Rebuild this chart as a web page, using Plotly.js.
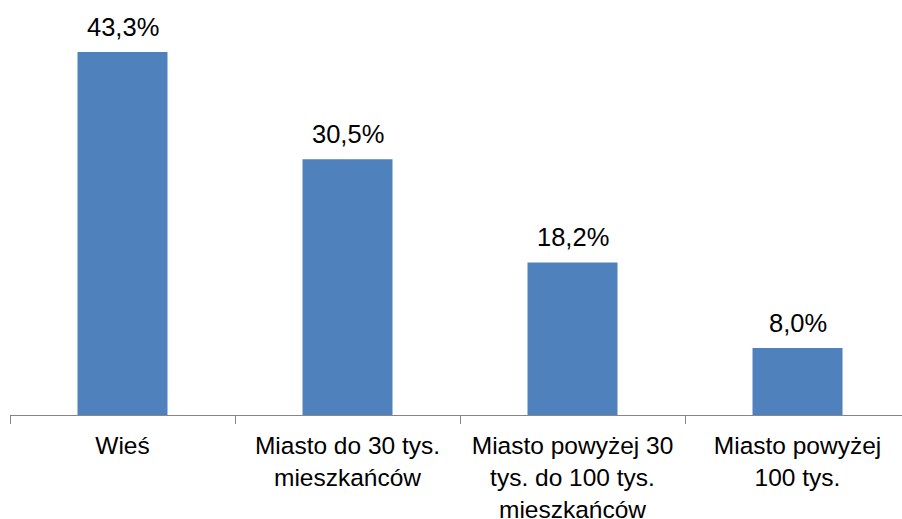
<!DOCTYPE html>
<html>
<head>
<meta charset="utf-8">
<script src="https://cdn.plot.ly/plotly-3.0.1.min.js"></script>
<style>html,body{margin:0;padding:0;background:#fff;}#chart{width:902px;height:519px;}</style>
</head>
<body>
<div id="chart"></div>
<script>
const categories = ["Wieś", "Miasto do 30 tys.<br>mieszkańców", "Miasto powyżej 30<br>tys. do 100 tys.<br>mieszkańców", "Miasto powyżej<br>100 tys."];
const values = [43.3, 30.5, 18.2, 8.0];
const valueLabels = ["43,3%", "30,5%", "18,2%", "8,0%"];

const font = "Liberation Sans, Arial, sans-serif";

const trace = {
  type: "bar",
  x: categories,
  y: values,
  marker: {color: "#4F81BD"},
  width: 0.4,
  hoverinfo: "none"
};

const annotations = categories.map((c, i) => ({
  x: c, y: values[i], text: valueLabels[i],
  xref: "x", yref: "y", showarrow: false,
  yanchor: "bottom", yshift: 9,
  font: {family: font, size: 25.5, color: "#000"}
}));

const layout = {
  width: 902, height: 519,
  margin: {l: 10, r: 0, t: 10, b: 104},
  paper_bgcolor: "#fff", plot_bgcolor: "#fff",
  showlegend: false,
  xaxis: {
    type: "category",
    range: [-0.5, 3.4644],
    showline: true, linecolor: "#868686", linewidth: 1,
    ticks: "outside", tickson: "boundaries", ticklen: 8, tickcolor: "#868686", tickwidth: 1,
    ticklabelstandoff: 9,
    showgrid: false, zeroline: false,
    tickfont: {family: font, size: 24.5, color: "#000"},
    fixedrange: true
  },
  yaxis: {
    range: [0, 48.3],
    visible: false, showgrid: false, zeroline: false, fixedrange: true
  },
  annotations: annotations
};

Plotly.newPlot("chart", [trace], layout, {displayModeBar: false, staticPlot: true});
</script>
</body>
</html>
